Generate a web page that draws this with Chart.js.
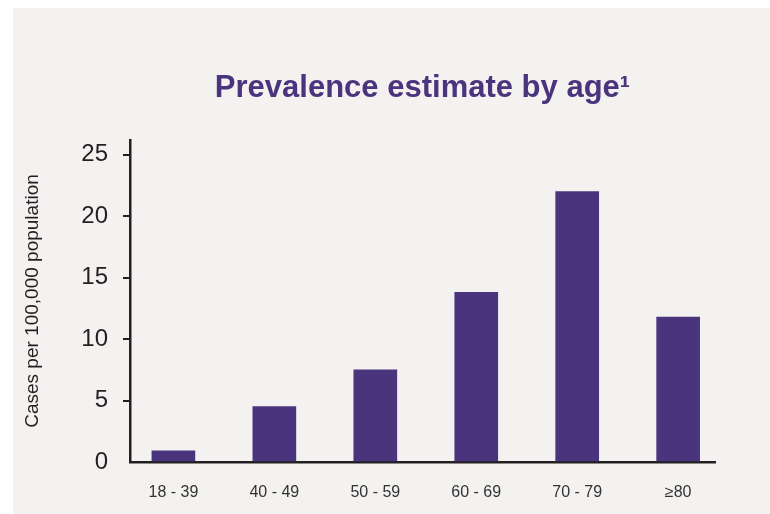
<!DOCTYPE html>
<html>
<head>
<meta charset="utf-8">
<title>Prevalence estimate by age</title>
<script src="https://cdn.jsdelivr.net/npm/chart.js@4.4.1/dist/chart.umd.min.js"></script>
<style>
  html, body { margin: 0; padding: 0; background: #ffffff; }
  #panel { position: absolute; left: 13px; top: 8px; width: 757px; height: 506px; background: #f3f2f0; }
  #wrap { position: absolute; left: 0; top: 0; width: 770px; height: 514px; }
</style>
</head>
<body>
<div id="panel"></div>
<div id="wrap"><canvas id="chart" width="770" height="514"></canvas></div>
<script>
// Age groups and prevalence (cases per 100,000 population)
const ageGroups = ['18 - 39', '40 - 49', '50 - 59', '60 - 69', '70 - 79', '\u226580'];
const prevalence = [0.9, 4.5, 7.5, 13.8, 22.0, 11.8];
const yTickValues = [0, 5, 10, 15, 20, 25];

const purple = '#4a347d';
const ink = '#231f20';
const fontFamily = '"Liberation Sans", Arial, Helvetica, sans-serif';

const points = ageGroups.map((g, i) => ({ x: i, y: prevalence[i] }));

new Chart(document.getElementById('chart'), {
  type: 'bar',
  data: {
    datasets: [{
      data: points,
      backgroundColor: purple,
      borderWidth: 0,
      barThickness: 43
    }]
  },
  options: {
    responsive: false,
    animation: false,
    events: [],
    layout: { padding: { top: 0, left: 0, right: 55, bottom: 12 } },
    plugins: {
      legend: { display: false },
      tooltip: { enabled: false },
      title: {
        display: true,
        text: 'Prevalence estimate by age\u00b9',
        fullSize: false,
        color: purple,
        font: { family: fontFamily, size: 31, weight: 'bold' },
        padding: { top: 70, bottom: 32.8 }
      }
    },
    scales: {
      x: {
        type: 'linear',
        offset: false,
        min: -0.43,
        max: 5.365,
        afterBuildTicks: (scale) => {
          scale.ticks = ageGroups.map((g, i) => ({ value: i }));
        },
        afterFit: (scale) => { scale.height = 40; },
        ticks: {
          autoSkip: false,
          maxRotation: 0,
          padding: 21,
          color: '#333333',
          font: { family: fontFamily, size: 16 },
          callback: (v) => ageGroups[v] ?? ''
        },
        grid: { display: false, drawTicks: false, offset: false },
        border: { display: true, color: ink, width: 2.5 }
      },
      y: {
        min: 0,
        max: 26.2,
        afterBuildTicks: (scale) => {
          scale.ticks = yTickValues.map(v => ({ value: v }));
        },
        afterFit: (scale) => { scale.width = 130; },
        ticks: {
          padding: 15,
          color: ink,
          font: { family: fontFamily, size: 24 }
        },
        grid: {
          display: true,
          drawOnChartArea: false,
          drawTicks: true,
          tickLength: 7,
          lineWidth: 2,
          color: (ctx) => (ctx.tick && ctx.tick.value === 0) ? 'rgba(0,0,0,0)' : ink
        },
        border: { display: true, color: ink, width: 2.5 },
        title: {
          display: true,
          text: 'Cases per 100,000 population',
          color: ink,
          font: { family: fontFamily, size: 19 },
          padding: { top: 21, bottom: 0 }
        }
      }
    }
  }
});
</script>
</body>
</html>
